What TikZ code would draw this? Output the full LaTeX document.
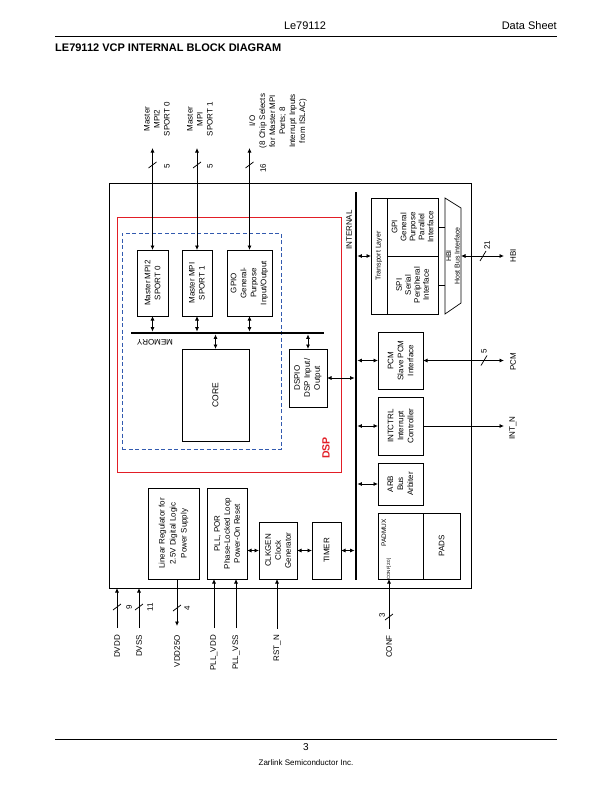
\documentclass[tikz,border=0pt]{standalone}
\usepackage{fontspec}
\setmainfont{Liberation Sans}
\usetikzlibrary{arrows.meta,fit}
\definecolor{dspred}{RGB}{226,30,38}
\definecolor{dashblue}{RGB}{50,90,175}
\newcommand\blk[5][]{\node[box,fit={(#3) (#4)}] (#2) {};\node[txt,#1] at (#2.center) {#5};}
\begin{document}
\begin{tikzpicture}[x=1pt,y=-1pt,>={Latex[length=4.5pt,width=4pt]},
 box/.style={draw,line width=0.7pt,inner sep=0pt,outer sep=0pt},
 txt/.style={rotate=90,align=center,inner sep=0pt,font=\fontsize{8}{10}\selectfont},
 lbl/.style={rotate=90,align=center,inner sep=0pt,font=\fontsize{8}{10}\selectfont},
 conn/.style={line width=0.75pt},
 dbl/.style={conn,<->},
 sgl/.style={conn,->},
 bus/.style={line width=2.8pt},
 slash/.style={line width=0.75pt},
 hdr/.style={inner sep=0pt,font=\fontsize{11}{13}\selectfont}]
\useasboundingbox (0,0) rectangle (611,792);
% header / footer
\node[hdr] (h1) at (305,26) {Le79112};
\node[hdr,anchor=east] (h2) at (557,26) {Data Sheet};
\draw[line width=0.8pt] (55,36) -- (557,36);
\node[hdr,anchor=west,font=\bfseries\fontsize{11}{13}\selectfont] (title) at (55,48) {LE79112 VCP INTERNAL BLOCK DIAGRAM};
\draw[line width=0.8pt] (55,739) -- (557,739);
\node[inner sep=0pt,font=\fontsize{10}{12}\selectfont] (pg) at (306,747) {3};
\node[inner sep=0pt,font=\fontsize{8}{10}\selectfont] (co) at (306,763) {Zarlink Semiconductor Inc.};
% outer box and groups
\node[box,fit={(109,183) (471,588)}] (chip) {};
\node[box,draw=dspred,fit={(117,217) (341,472)}] (dsp) {};
\node[box,draw=dashblue,dash pattern=on 4pt off 2.5pt,fit={(122,233) (281,449)}] (cpu) {};
\node[rotate=90,inner sep=0pt,text=dspred,font=\bfseries\fontsize{10.5}{12}\selectfont] (dsplbl) at (326,448) {DSP};
% DSP blocks
\blk{mpi2}{137,250}{168,316}{Master MPI2\\SPORT 0}
\blk{mpi1}{182,250}{212,316}{Master MPI\\SPORT 1}
\blk{gpio}{227,250}{272,316}{GPIO\\General-\\Purpose\\Input/Output}
\blk[font=\fontsize{8.5}{10}\selectfont]{core}{182,349}{249,441}{CORE}
\blk{dspio}{289,349}{327,407}{DSPIO\\DSP Input/\\Output}
% memory bus
\coordinate (mbL) at (131,333);
\coordinate (mbR) at (324,333);
\draw[bus] (mbL) -- (mbR);
\node[rotate=180,inner sep=0pt,font=\fontsize{8}{10}\selectfont] (mem) at (155,342) {MEMORY};
\draw[dbl,shorten >=1.4pt] (mpi2.south) -- (mpi2.south |- mbL);
\draw[dbl,shorten >=1.4pt] (mpi1.south) -- (mpi1.south |- mbL);
\draw[dbl,shorten >=1.4pt] (gpio.south) -- (gpio.south |- mbL);
\draw[dbl,shorten >=1.4pt] (core.north) -- (core.north |- mbL);
\draw[dbl,shorten >=1.4pt] (dspio.north) -- (dspio.north |- mbL);
% top connections
\coordinate (topy) at (0,148);
\draw[dbl] (mpi2.north) -- (mpi2.north |- topy);
\draw[dbl] (mpi1.north) -- (mpi1.north |- topy);
\draw[dbl] (gpio.north) -- (gpio.north |- topy);
\draw[slash] (148.5,168) -- (156.5,162);
\draw[slash] (193,168) -- (201,162);
\draw[slash] (245.5,168) -- (253.5,162);
\node[lbl] (n5a) at (167,166) {5};
\node[lbl] (n5b) at (210,166) {5};
\node[lbl] (n16) at (263,168) {16};
\node[lbl] (tl1) at (157,119) {Master\\MPI2\\SPORT 0};
\node[lbl] (tl2) at (200,119) {Master\\MPI\\SPORT 1};
\node[lbl] (tl3) at (278,121) {I/O\\(8 Chip Selects\\for Master MPI\\Ports; 8\\Interrupt Inputs\\from ISLAC)};
% internal bus
\coordinate (ibT) at (356,192);
\coordinate (ibB) at (356,580);
\draw[bus] (ibT) -- (ibB);
\node[rotate=90,inner sep=0pt,font=\fontsize{8}{10}\selectfont] (intl) at (349,230) {INTERNAL};
\draw[dbl,shorten >=1.4pt] (dspio.east) -- (dspio.east -| ibT);
% right blocks
\blk[font=\fontsize{7}{9}\selectfont]{tl}{371,198}{387,314}{Transport Layer}
\blk[font=\fontsize{8}{9}\selectfont]{gpi}{387,198}{438,256}{GPI\\General\\Purpose\\Parallel\\Interface}
\blk[font=\fontsize{8}{9}\selectfont]{spi}{387,256}{438,314}{SPI\\Serial\\Peripheral\\Interface}
\draw[box] (445,198) -- (461,208) -- (461,303) -- (445,314) -- cycle;
\coordinate (hbiL) at (445,256);
\coordinate (hbiR) at (461,256);
\node[txt,font=\fontsize{7}{8.5}\selectfont] (hbi) at (453,256) {HBI\\Host Bus Interface};
\draw[conn] (gpi.east) -- (gpi.east -| hbiL);
\draw[conn] (spi.east) -- (spi.east -| hbiL);
\draw[dbl,shorten <=1.4pt] (tl.west -| ibT) -- (tl.west);
\blk{pcm}{378,332}{423,389}{PCM\\Slave PCM\\Interface}
\blk{intc}{378,397}{423,455}{INTCTRL\\Interrupt\\Controller}
\blk{arb}{378,463}{423,505}{ARB\\Bus\\Arbiter}
\node[box,fit={(378,513) (423,579)}] (padmux) {};
\blk{pads}{423,513}{460,579}{PADS}
\node[txt,font=\fontsize{6.5}{8}\selectfont] (pmx) at (384,533) {PADMUX};
\node[txt,font=\fontsize{4.5}{6}\selectfont] (cnf) at (389,569) {CONF[2:0]};
\draw[dbl,shorten <=1.4pt] (pcm.west -| ibT) -- (pcm.west);
\draw[dbl,shorten <=1.4pt] (intc.west -| ibT) -- (intc.west);
\draw[dbl,shorten <=1.4pt] (arb.west -| ibT) -- (arb.west);
% external right
\coordinate (hbiout) at (504,256);
\draw[dbl] (hbiR) -- (hbiout);
\draw[slash] (480,261) -- (486,251);
\node[lbl] (n21) at (487,245) {21};
\node[lbl] (hbilbl) at (513,256) {HBI};
\coordinate (pcmout) at (504,360.5);
\draw[dbl] (pcm.east) -- (pcmout);
\draw[slash] (481,365.5) -- (487,355.5);
\node[lbl] (n5c) at (484,351) {5};
\node[lbl] (pcmlbl) at (513,362) {PCM};
\coordinate (intout) at (504,426);
\draw[sgl] (intc.east) -- (intout);
\node[lbl] (intlbl) at (513,428) {INT\_N};
% bottom blocks
\blk[font=\fontsize{8}{11}\selectfont]{reg}{148,488}{199,579}{Linear Regulator for\\2.5V Digital Logic\\Power Supply}
\blk{pll}{207,488}{247,579}{PLL, POR\\Phase-Locked Loop\\Power-On Reset}
\blk{clk}{259,522}{297,579}{CLKGEN\\Clock\\Generator}
\blk{timer}{312,522}{341,579}{TIMER}
\draw[dbl] (clk.west -| pll.east) -- (clk.west);
\draw[dbl] (clk.east) -- (timer.west);
\draw[dbl,shorten >=1.4pt] (timer.east) -- (timer.east -| ibT);
% bottom connections
\coordinate (dvdd) at (117,628);
\coordinate (dvss) at (139,628);
\coordinate (vdd) at (177,626);
\coordinate (pllv) at (214,628);
\coordinate (plls) at (236,628);
\coordinate (rst) at (277,629);
\coordinate (conf) at (389,629);
\draw[sgl] (dvdd) -- (dvdd |- chip.south);
\draw[sgl] (dvss) -- (dvss |- chip.south);
\draw[sgl] (vdd |- reg.south) -- (vdd);
\draw[sgl] (pllv) -- (pllv |- pll.south);
\draw[sgl] (plls) -- (plls |- pll.south);
\draw[sgl] (rst) -- (rst |- clk.south);
\draw[sgl] (conf) -- (conf |- padmux.south);
\draw[slash] (113,610) -- (121,604);
\draw[slash] (135,610) -- (143,604);
\draw[slash] (173,611) -- (181,605);
\draw[slash] (385,620) -- (393,614);
\node[lbl] (n9) at (129,607) {9};
\node[lbl] (n11) at (150,607) {11};
\node[lbl] (n4) at (187,608) {4};
\node[lbl] (n3) at (382,615) {3};
\node[lbl,anchor=east] (l1) at (117,635) {DVDD};
\node[lbl,anchor=east] (l2) at (139,635) {DVSS};
\node[lbl,anchor=east] (l3) at (177,635) {VDD25O};
\node[lbl,anchor=east] (l4) at (214,635) {PLL\_VDD};
\node[lbl,anchor=east] (l5) at (236,635) {PLL\_VSS};
\node[lbl,anchor=east] (l6) at (277,635) {RST\_N};
\node[lbl,anchor=east] (l7) at (389,635) {CONF};
\end{tikzpicture}
\end{document}
